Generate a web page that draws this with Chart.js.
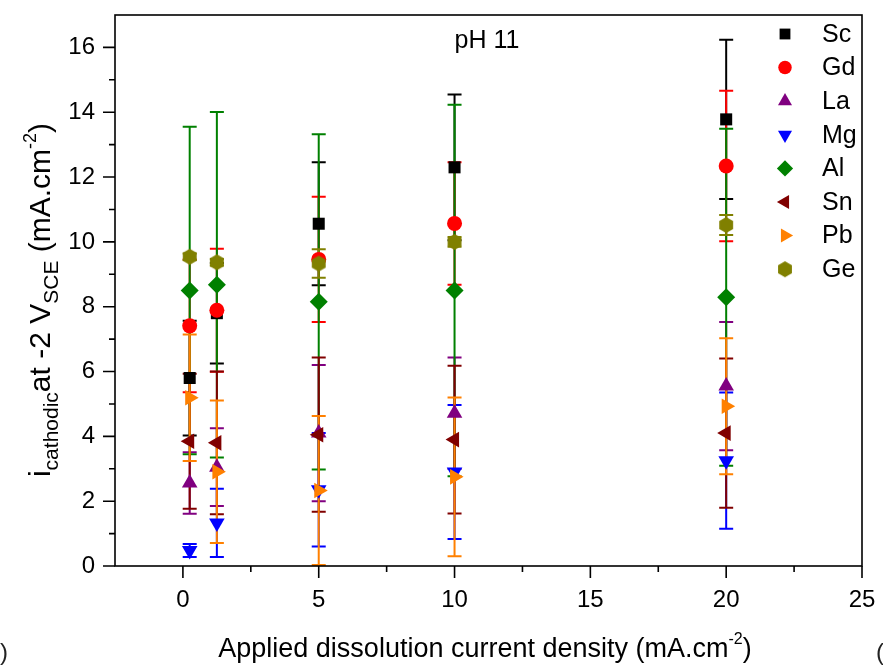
<!DOCTYPE html>
<html>
<head>
<meta charset="utf-8">
<script src="https://cdn.jsdelivr.net/npm/chart.js@4.4.1/dist/chart.umd.min.js"></script>
<style>
  html, body { margin: 0; padding: 0; background: #fff; }
  #wrap { width: 883px; height: 666px; position: relative; }
</style>
</head>
<body>
<div id="wrap"><canvas id="chart" width="883" height="666"></canvas></div>
<script>
// Data (pH 11)
const xVals = [0.25, 1.25, 5, 10, 20];
const xTicks = [0, 5, 10, 15, 20, 25];
const yTicks = [0, 2, 4, 6, 8, 10, 12, 14, 16];

const scVals = [5.8, 7.8, 10.56, 12.3, 13.78];
const scErr  = [1.77, 1.55, 1.9, 2.25, 2.46];
const gdVals = [7.41, 7.89, 9.46, 10.57, 12.34];
const gdErr  = [2.05, 1.9, 1.93, 1.89, 2.32];
const laVals = [2.56, 3.05, 4.1, 4.71, 5.55];
const laErr  = [0.95, 1.2, 2.1, 1.72, 1.98];
const mgVals = [0.48, 1.33, 2.35, 2.9, 3.25];
const mgErr  = [0.2, 1.05, 1.75, 2.07, 2.1];
const alVals = [8.5, 8.68, 8.15, 8.5, 8.29];
const alErr  = [5.05, 5.33, 5.17, 5.73, 5.2];
const snVals = [3.85, 3.8, 4.05, 3.9, 4.1];
const snErr  = [2.08, 2.2, 2.38, 2.28, 2.3];
const pbVals = [5.19, 2.91, 2.33, 2.75, 4.93];
const pbErr  = [1.95, 2.2, 2.3, 2.45, 2.1];
const geVals = [9.54, 9.37, 9.33, 10.0, 10.52];
const geErr  = [0.1, 0.1, 0.44, 0.15, 0.31];

const FONT = "'Liberation Sans', Arial, sans-serif";

// hexagon marker for Ge (no built-in style)
function makeHexagon(color, r) {
    const c = document.createElement('canvas');
    c.width = c.height = Math.ceil(r * 2 + 2);
    const g = c.getContext('2d');
    const cx = c.width / 2, cy = c.height / 2;
    g.beginPath();
    for (let i = 0; i < 6; i++) {
        const a = Math.PI / 6 + i * Math.PI / 3;
        const px = cx + r * Math.cos(a), py = cy + r * Math.sin(a);
        if (i === 0) g.moveTo(px, py); else g.lineTo(px, py);
    }
    g.closePath();
    g.fillStyle = color;
    g.fill();
    return c;
}

const series = [
    { name: 'Sc', vals: scVals, err: scErr, color: '#000000', style: 'rect', rot: 0, r: 8.5 },
    { name: 'Gd', vals: gdVals, err: gdErr, color: '#ff0000', style: 'circle', rot: 0, r: 7.5 },
    { name: 'La', vals: laVals, err: laErr, color: '#800080', style: 'triangle', rot: 0, r: 9 },
    { name: 'Mg', vals: mgVals, err: mgErr, color: '#0000ff', style: 'triangle', rot: 180, r: 9 },
    { name: 'Al', vals: alVals, err: alErr, color: '#008000', style: 'rectRot', rot: 0, r: 9 },
    { name: 'Sn', vals: snVals, err: snErr, color: '#800000', style: 'triangle', rot: 270, r: 9 },
    { name: 'Pb', vals: pbVals, err: pbErr, color: '#ff8000', style: 'triangle', rot: 90, r: 9 },
    { name: 'Ge', vals: geVals, err: geErr, color: '#808000', style: makeHexagon('#808000', 8), rot: 0, r: 8 }
];

const datasets = series.map((s, i) => ({
    label: s.name,
    data: xVals.map((x, j) => ({ x: x, y: s.vals[j] })),
    errors: s.err,
    pointStyle: s.style,
    rotation: s.rot,
    pointRadius: s.r,
    pointHoverRadius: s.r,
    backgroundColor: s.color,
    borderColor: s.color,
    borderWidth: 0,
    order: series.length - i
}));

// error bars, drawn under the markers
const errorBars = {
    id: 'errorBars',
    beforeDatasetsDraw(chart) {
        const ctx = chart.ctx;
        const xs = chart.scales.x, ys = chart.scales.y;
        ctx.save();
        ctx.lineWidth = 2;
        chart.data.datasets.forEach(ds => {
            ctx.strokeStyle = ds.borderColor;
            ds.data.forEach((p, j) => {
                const e = ds.errors[j];
                const px = xs.getPixelForValue(p.x);
                const top = ys.getPixelForValue(p.y + e);
                const bot = ys.getPixelForValue(p.y - e);
                ctx.beginPath();
                ctx.moveTo(px, top); ctx.lineTo(px, bot);
                ctx.moveTo(px - 7, top); ctx.lineTo(px + 7, top);
                ctx.moveTo(px - 7, bot); ctx.lineTo(px + 7, bot);
                ctx.stroke();
            });
        });
        ctx.restore();
    }
};

// frame, tick marks, titles, legend
const decorations = {
    id: 'decorations',
    afterDraw(chart) {
        const ctx = chart.ctx;
        const a = chart.chartArea;
        const xs = chart.scales.x, ys = chart.scales.y;
        ctx.save();
        ctx.strokeStyle = '#000';
        ctx.lineWidth = 1.6;
        ctx.strokeRect(a.left, a.top, a.right - a.left, a.bottom - a.top);

        ctx.beginPath();
        for (let v = 0; v <= 25; v += 2.5) {
            const px = xs.getPixelForValue(v);
            const len = (v % 5 === 0) ? 12 : 6;
            ctx.moveTo(px, a.bottom); ctx.lineTo(px, a.bottom + len);
        }
        for (let v = 0; v <= 16; v += 1) {
            const py = ys.getPixelForValue(v);
            const len = (v % 2 === 0) ? 12 : 6;
            ctx.moveTo(a.left, py); ctx.lineTo(a.left - len, py);
        }
        ctx.stroke();

        ctx.fillStyle = '#000';
        ctx.textBaseline = 'alphabetic';

        // pH label
        ctx.font = '25px ' + FONT;
        ctx.textAlign = 'center';
        ctx.fillText('pH 11', 487, 48);

        // x title
        drawRich(ctx, [
            { t: 'Applied dissolution current density (mA.cm', s: 27, dy: 0 },
            { t: '-2', s: 16, dy: -13 },
            { t: ')', s: 27, dy: 0 }
        ], 485, 657, 0);

        // y title (rotated)
        drawRich(ctx, [
            { t: 'i', s: 30, dy: 0 },
            { t: 'cathodic', s: 21, dy: 8 },
            { t: 'at -2 V', s: 30, dy: 0 },
            { t: 'SCE', s: 21, dy: 8 },
            { t: ' (mA.cm', s: 30, dy: 0 },
            { t: '-2', s: 18, dy: -14 },
            { t: ')', s: 30, dy: 0 }
        ], 50, 300, -Math.PI / 2);

        // legend
        ctx.font = '25px ' + FONT;
        ctx.textAlign = 'left';
        ctx.textBaseline = 'middle';
        series.forEach((s, i) => {
            const ly = 34 + i * 33.6;
            ctx.fillStyle = s.color;
            Chart.helpers.drawPoint(ctx, {
                pointStyle: s.style, rotation: s.rot, radius: s.r * 0.9, borderWidth: 0
            }, 785, ly);
            ctx.fillStyle = '#000';
            ctx.fillText(s.name, 822, ly + 1);
        });

        // stray glyphs at the cropped figure edges
        ctx.font = '24px ' + FONT;
        ctx.textBaseline = 'alphabetic';
        ctx.fillStyle = '#222';
        ctx.fillText(')', 0, 660);
        ctx.fillText('(', 876, 660);
        ctx.restore();
    }
};

function drawRich(ctx, parts, cx, cy, rot) {
    let total = 0;
    parts.forEach(p => { ctx.font = p.s + 'px ' + FONT; p.w = ctx.measureText(p.t).width; total += p.w; });
    ctx.save();
    ctx.translate(cx, cy);
    ctx.rotate(rot);
    ctx.textAlign = 'left';
    let x = -total / 2;
    parts.forEach(p => {
        ctx.font = p.s + 'px ' + FONT;
        ctx.fillText(p.t, x, p.dy);
        x += p.w;
    });
    ctx.restore();
}

new Chart(document.getElementById('chart'), {
    type: 'scatter',
    data: { datasets: datasets },
    options: {
        responsive: false,
        animation: false,
        layout: { padding: { left: 0, right: 21, top: 15, bottom: 0 } },
        plugins: { legend: { display: false }, tooltip: { enabled: false } },
        scales: {
            x: {
                type: 'linear',
                min: -2.5,
                max: 25,
                afterBuildTicks: axis => { axis.ticks = xTicks.map(v => ({ value: v })); },
                afterFit: axis => { axis.height = 100; axis.paddingLeft = 0; axis.paddingRight = 0; },
                grid: { drawOnChartArea: false, color: 'rgba(0,0,0,0)', tickLength: 12 },
                border: { display: false },
                ticks: { color: '#000', font: { family: FONT, size: 24 }, padding: 8, maxRotation: 0 }
            },
            y: {
                type: 'linear',
                min: 0,
                max: 17,
                afterBuildTicks: axis => { axis.ticks = yTicks.map(v => ({ value: v })); },
                afterFit: axis => { axis.width = 115; axis.paddingTop = 0; axis.paddingBottom = 0; },
                grid: { drawOnChartArea: false, color: 'rgba(0,0,0,0)', tickLength: 12 },
                border: { display: false },
                ticks: { color: '#000', font: { family: FONT, size: 24 }, padding: 8 }
            }
        }
    },
    plugins: [errorBars, decorations]
});
</script>
</body>
</html>
